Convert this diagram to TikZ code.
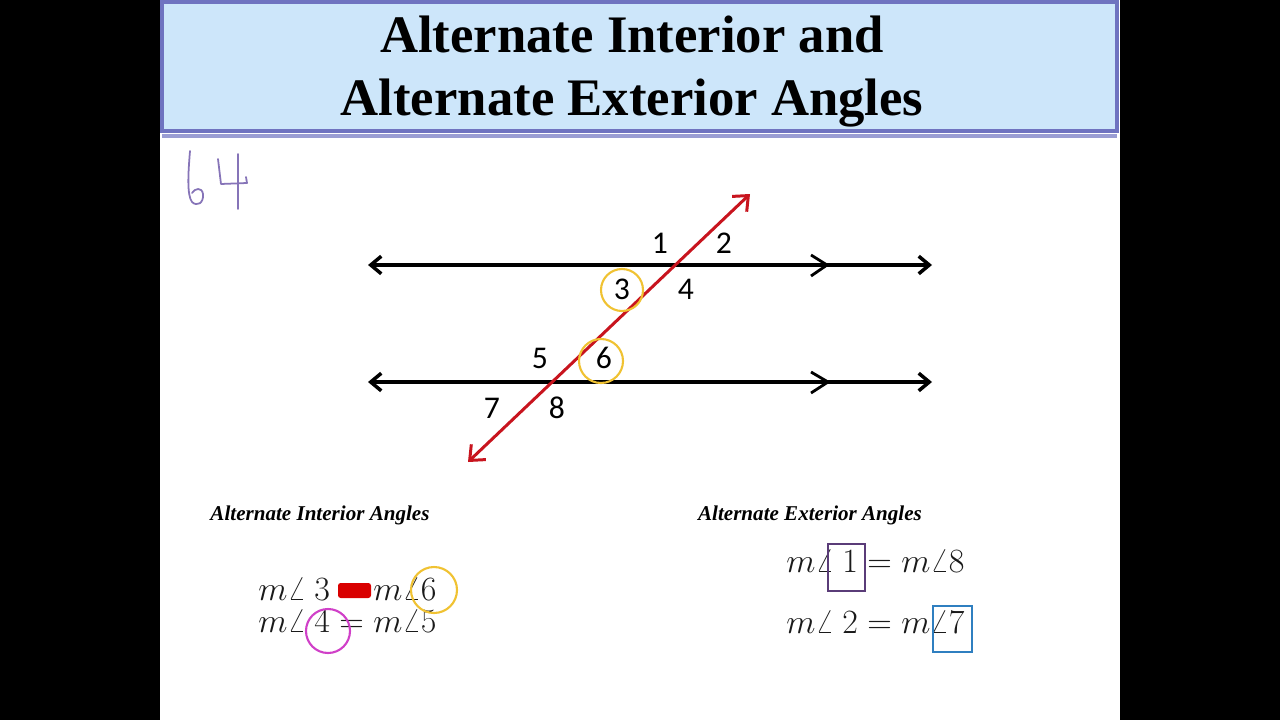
\documentclass[tikz,border=0pt]{standalone}
\usepackage{fontspec}
\setmainfont{Liberation Serif}
\newfontfamily\numfont{Carlito}
\usepackage{xcolor}
\usetikzlibrary{arrows.meta,positioning}

\definecolor{titlefill}{HTML}{CDE6FA}
\definecolor{titleedge}{HTML}{6F73C0}
\definecolor{inkpurple}{HTML}{8674B8}
\definecolor{transred}{HTML}{C8141E}
\definecolor{markyellow}{HTML}{F0C232}
\definecolor{markmagenta}{HTML}{D040C8}
\definecolor{boxpurple}{HTML}{5A3C78}
\definecolor{boxblue}{HTML}{2F7FC0}
\definecolor{eqgray}{HTML}{1A1A1A}

\tikzset{
  parline/.style={draw=black, line width=2pt, {Straight Barb[length=6pt,width=10pt]}-{Straight Barb[length=6pt,width=10pt]}},
  transline/.style={draw=transred, line width=1.7pt, {Straight Barb[length=7pt,width=12pt]}-{Straight Barb[length=7pt,width=12pt]}},
  anglenum/.style={font=\numfont\fontsize{18}{18}\selectfont, inner sep=0pt},
  ring/.style={draw=#1, line width=1.2pt},
  titletext/.style={font=\fontsize{30}{36}\selectfont\bfseries, inner sep=0pt, anchor=base},
  eqn/.style={font=\fontsize{17.28}{18}\selectfont, xscale=1.12, yscale=1.12, text=eqgray, inner sep=0pt, anchor=base west},
  subhead/.style={font=\fontsize{12}{12}\selectfont\bfseries\itshape, inner sep=0pt},
  hbox/.style={draw=#1, line width=1.2pt}
}

\begin{document}
\begin{tikzpicture}[x=0.02cm, y=-0.02cm]
  % frame and slide
  \fill[black] (0,0) rectangle (1280,720);
  \fill[white] (160,0) rectangle (1120,720);
  \useasboundingbox (0,0) rectangle (1280,720);

  % title bar
  \draw[titleedge, line width=1.8pt, fill=titlefill] (162,2) rectangle (1117,131);
  \draw[titleedge!70, line width=2.4pt] (162,136) -- (1117,136);
  \node[titletext] (title1) at (632,52) {Alternate Interior and};
  \node[titletext] (title2) at (632,115) {Alternate Exterior Angles};

  % handwritten page number
  \draw[inkpurple, line width=1pt, line cap=round, line join=round]
    (190,151) .. controls (188,175) and (187,195) .. (192,202)
    .. controls (197,207) and (204,203) .. (203,194)
    .. controls (202,187) and (195,188) .. (192,193);
  \draw[inkpurple, line width=1pt, line cap=round, line join=round]
    (218,159) -- (221,184) -- (247,183) -- (246,177);
  \draw[inkpurple, line width=1pt, line cap=round] (238,154) -- (238,209);

  % parallel lines
  \coordinate (topL) at (368,265);
  \coordinate (topR) at (932,265);
  \coordinate (botL) at (368,382);
  \coordinate (botR) at (932,382);
  \draw[parline] (topL) -- (topR);
  \draw[parline] (botL) -- (botR);
  \draw[line width=1.6pt] (811,255) -- (827,265) -- (811,276);
  \draw[line width=1.6pt] (811,372) -- (828,382) -- (811,393);

  % transversal
  \coordinate (transA) at (468,462);
  \coordinate (transB) at (750,194);
  \draw[transline] (transA) -- (transB);

  % angle numbers
  \node[anglenum] (a1) at (660,243) {1};
  \node[anglenum] (a2) at (724,243) {2};
  \node[anglenum] (a3) at (622,289) {3};
  \node[anglenum] (a4) at (686,289) {4};
  \node[anglenum] (a5) at (540,358) {5};
  \node[anglenum] (a6) at (604,358) {6};
  \node[anglenum] (a7) at (492,408) {7};
  \node[anglenum] (a8) at (557,408) {8};
  \draw[ring=markyellow] (622,290) circle (21);
  \draw[ring=markyellow] (601,361) circle (22);

  % interior angles
  \node[subhead] (inthead) at (320,515) {Alternate Interior Angles};
  \node[eqn] (int1) at (258,600) {$m\angle\ 3 = m\angle 6$};
  \node[eqn] (int2) at (258,632) {$m\angle\ 4 = m\angle 5$};
  \fill[red!85!black, rounded corners=1.5pt] (338,583) rectangle (371,598);
  \draw[ring=markyellow] (434,590) circle (23);
  \draw[ring=markmagenta] (328,631) circle (22);

  % exterior angles
  \node[subhead] (exthead) at (810,515) {Alternate Exterior Angles};
  \node[eqn] (ext1) at (786,572) {$m\angle\ 1 = m\angle 8$};
  \node[eqn] (ext2) at (786,633) {$m\angle\ 2 = m\angle 7$};
  \draw[hbox=boxpurple] (828,544) rectangle (865,591);
  \draw[hbox=boxblue] (933,606) rectangle (972,652);
\end{tikzpicture}
\end{document}
